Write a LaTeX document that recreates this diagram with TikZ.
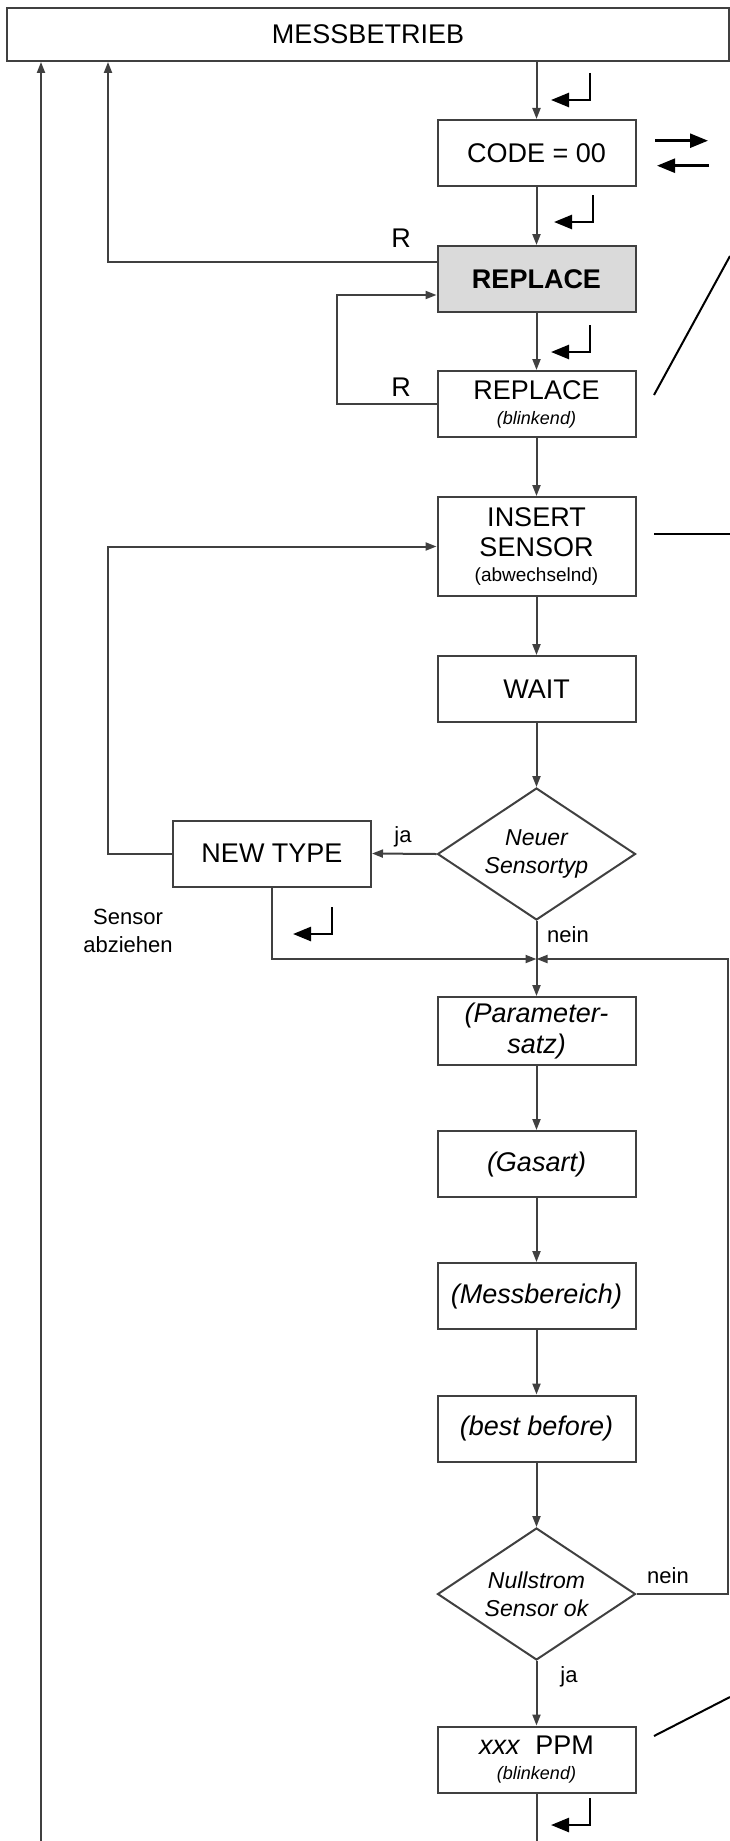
\documentclass[tikz,border=0pt]{standalone}
\usepackage{fontspec}
\setmainfont{Liberation Sans}
\usetikzlibrary{arrows.meta}
\usetikzlibrary{shapes.geometric}
\definecolor{linec}{RGB}{64,64,64}
\definecolor{repfill}{RGB}{218,218,218}

\begin{document}
\begin{tikzpicture}[x=1pt, y=-1pt,
    box/.style={draw=linec, line width=2pt, fill=white, minimum width=198pt,
      minimum height=66pt, inner sep=0pt, align=center,
      font=\fontsize{27}{30}\selectfont},
    decision/.style={diamond, aspect=1.5, draw=linec, line width=2pt, fill=white,
      minimum width=198pt, minimum height=132pt, inner sep=0pt, align=center,
      font=\itshape\fontsize{23}{28}\selectfont},
    line/.style={draw=linec, line width=2pt},
    flow/.style={line, -{Triangle[length=11pt,width=8pt]}},
    enter/.style={black, line width=2.5pt, -{Triangle[length=18pt,width=14pt]}},
    leader/.style={black, line width=2pt},
    lbl/.style={inner sep=0pt, font=\fontsize{22}{28}\selectfont, align=center},
    rlbl/.style={inner sep=0pt, font=\fontsize{27}{30}\selectfont}]
                      \useasboundingbox (0,0) rectangle (730,1841);

                      % main column
                      \node[box, minimum width=722pt, minimum height=53pt] (mess) at (368,34.5) {MESSBETRIEB};
                      \node[box] (code) at (536.5,153) {CODE = 00};
                      \node[box, fill=repfill, font=\bfseries\fontsize{27}{30}\selectfont] (rep) at (536.5,279) {REPLACE};
                      \node[box] (repb) at (536.5,404) {REPLACE\\[-5pt]{\itshape\fontsize{18}{22}\selectfont (blinkend)}};
                      \node[box, minimum height=99pt] (ins) at (536.5,546.5) {INSERT\\SENSOR\\[-5pt]{\fontsize{19}{22}\selectfont (abwechselnd)}};
                      \node[box] (wait) at (536.5,689) {WAIT};
                      \node[decision] (q1) at (536.5,854) {Neuer\\Sensortyp};
                      \node[box] (newt) at (272,853.5) {NEW TYPE};
                      \node[box, minimum height=68pt, font=\itshape\fontsize{27}{32}\selectfont] (par) at (536.5,1031) {(Parameter-\\satz)};
                      \node[box, font=\itshape\fontsize{27}{30}\selectfont] (gas) at (536.5,1164) {(Gasart)};
                      \node[box, font=\itshape\fontsize{27}{30}\selectfont] (mesb) at (536.5,1296) {(Messbereich)};
                      \node[box, font=\itshape\fontsize{27}{30}\selectfont] (best) at (536.5,1428.5) {(best before)};
                      \node[decision] (q2) at (536.5,1594) {Nullstrom\\Sensor ok};
                      \node[box] (ppm) at (536.5,1759.5) {\textit{xxx}\ \ PPM\\[-5pt]{\itshape\fontsize{18}{22}\selectfont (blinkend)}};

                      % labels
                      \node[rlbl] (r1) at (401,238) {R};
                      \node[rlbl] (r2) at (401,387) {R};
                      \node[lbl] (ja1) at (403,837) {ja};
                      \node[lbl] (nein1) at (568,935) {nein};
                      \node[lbl] (nein2) at (668,1576) {nein};
                      \node[lbl] (ja2) at (569,1677) {ja};
                      \node[lbl] (abz) at (128,931) {Sensor\\abziehen};

                      \coordinate (lane0) at (41,0);
                      \coordinate (lane1) at (108,0);
                      \coordinate (merge) at (536.5,959);
                      \coordinate (rside) at (728,959);
                      \coordinate (bot) at (536.5,1841);
                      \coordinate (botl) at (41,1841);

                      % connectors
                      \draw[flow] (code.north |- mess.south) -- (code.north);
                      \draw[flow] (code.south) -- (rep.north);
                      \draw[flow] (rep.south) -- (repb.north);
                      \draw[flow] (repb.south) -- (ins.north);
                      \draw[flow] (ins.south) -- (wait.north);
                      \draw[flow] (wait.south) -- (q1.north);
                      \draw[flow] (q1.west) -- (newt.east);
                      \draw[line] (q1.south) -- (merge);
                      \draw[flow] (merge) -- (par.north);
                      \draw[flow] (par.south) -- (gas.north);
                      \draw[flow] (gas.south) -- (mesb.north);
                      \draw[flow] (mesb.south) -- (best.north);
                      \draw[flow] (best.south) -- (q2.north);
                      \draw[flow] (q2.south) -- (ppm.north);
                      \draw[line] (ppm.south) -- (bot);
                      \draw[flow] ([yshift=17pt]rep.west) -| (lane1 |- mess.south);
                      \draw[flow] (repb.west) -- ++(-99.5,0) |- ([yshift=-16pt]rep.west);
                      \draw[flow] (newt.west) -- (lane1 |- newt.west) |- (ins.west);
                      \draw[flow] (newt.south) |- (merge);
                      \draw[flow] (q2.east) -| (rside) -- (merge);
                      \draw[flow] (botl) -- (lane0 |- mess.south);

                      % enter keys
                      \foreach \x/\y in {590/100, 593/222, 590/352, 332/934, 590/1825} {
                              \draw[enter] (\x,\y-27) -- (\x,\y) -- (\x-39,\y);
                          }
                      \draw[enter] (655,140.7) -- (708,140.7);
                      \draw[enter] (709,165.7) -- (657,165.7);

                      % leader lines
                      \draw[leader] (654,395) -- (730,256);
                      \draw[leader] (654,534) -- (730,534);
                      \draw[leader] (654,1736) -- (730,1697);

                  \end{tikzpicture}
\end{document}
